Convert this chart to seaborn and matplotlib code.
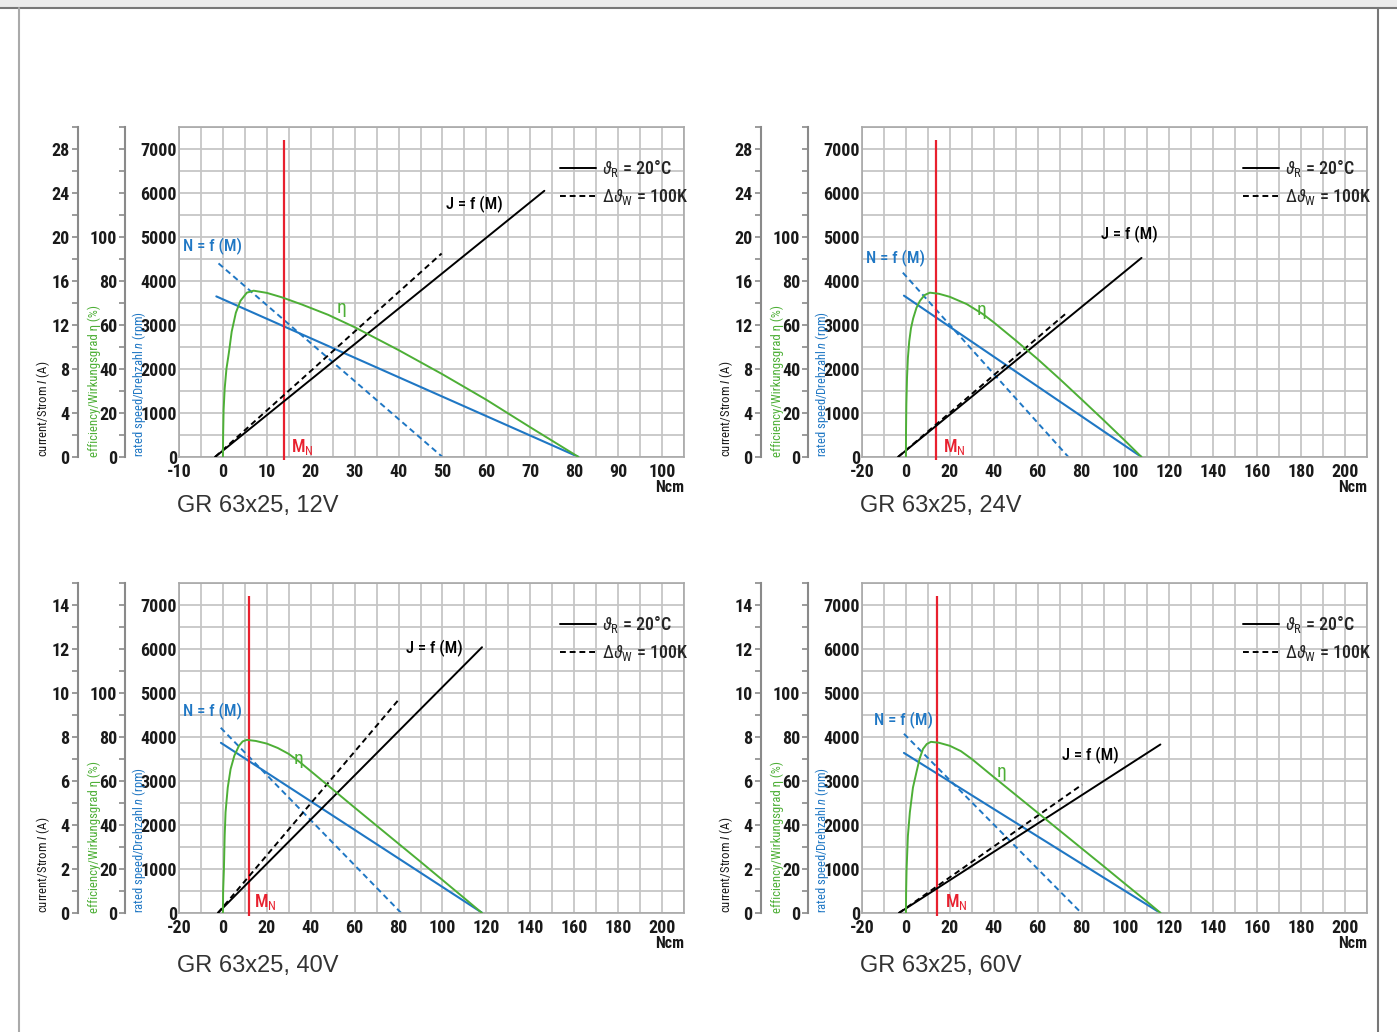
import numpy as np
import matplotlib
matplotlib.use('Agg')
import matplotlib.pyplot as plt
from matplotlib import font_manager as fm
from matplotlib.lines import Line2D
from matplotlib.patches import Rectangle
from matplotlib.ticker import MultipleLocator
import seaborn as sns

# ---- data (M in Ncm) ----
TITLES = ['GR 63x25, 12V', 'GR 63x25, 24V', 'GR 63x25, 40V', 'GR 63x25, 60V']

# 12 V
V12_MN = 13.9
V12_SPEED_M = [-1.5, 81.0]
V12_SPEED_N = [3650, 0]
V12_SPEED_HOT_M = [-1.0, 50.0]
V12_SPEED_HOT_N = [4400, 0]
V12_CURR_M = [-1.8, 73.2]
V12_CURR_I = [0.0, 24.2]
V12_CURR_HOT_M = [-1.8, 49.8]
V12_CURR_HOT_I = [0.0, 18.5]
V12_EFF_M = [0, 0.05, 0.16, 0.4, 0.8, 1.36, 2.0, 2.95, 4.0, 5.45, 7.0, 10.0, 13.4, 18.0, 24.0, 30.0, 40.0, 50.0, 60.0, 70.0, 81.0]
V12_EFF = [0, 10, 21.4, 31, 40, 47.4, 57, 65.6, 71, 74.7, 75.6, 74.6, 72.6, 69.3, 64.6, 59.0, 48.6, 37.6, 26.0, 13.5, 0]

# 24 V
V24_MN = 13.6
V24_SPEED_M = [-0.9, 107.3]
V24_SPEED_N = [3667, 0]
V24_SPEED_HOT_M = [-1.4, 74.0]
V24_SPEED_HOT_N = [4190, 0]
V24_CURR_M = [-3.6, 107.3]
V24_CURR_I = [0.0, 18.1]
V24_CURR_HOT_M = [-3.6, 73.2]
V24_CURR_HOT_I = [0.0, 13.1]
V24_EFF_M = [0, 0.05, 0.2, 0.5, 0.9, 1.5, 2.3, 3.3, 4.8, 6.4, 8.5, 10.9, 15.0, 20.0, 27.7, 35.0, 40.0, 50.0, 60.0, 70.0, 80.0, 90.0, 100.0, 107.3]
V24_EFF = [0, 12, 24, 36, 45, 52.5, 58.5, 63, 67.8, 71, 73.6, 74.7, 74.2, 72.8, 69.5, 65.0, 61.2, 53.0, 44.5, 35.5, 26.2, 16.8, 7.2, 0]

# 40 V
V40_MN = 12.1
V40_SPEED_M = [-0.9, 118.2]
V40_SPEED_N = [3867, 0]
V40_SPEED_HOT_M = [-1.0, 81.2]
V40_SPEED_HOT_N = [4210, 0]
V40_CURR_M = [-2.3, 118.0]
V40_CURR_I = [0.0, 12.08]
V40_CURR_HOT_M = [-2.3, 80.5]
V40_CURR_HOT_I = [0.0, 9.75]
V40_EFF_M = [0, 0.1, 0.45, 0.8, 1.2, 2.2, 3.5, 5.2, 7.3, 9.0, 10.9, 15.0, 20.0, 25.0, 30.0, 35.0, 40.0, 50.0, 60.0, 70.0, 80.0, 90.0, 100.0, 110.0, 118.0]
V40_EFF = [0, 10, 19.7, 35, 45.8, 57, 65.4, 71.5, 76, 78, 78.7, 78.2, 77.0, 75.0, 72.3, 68.6, 64.5, 56.2, 47.9, 39.7, 31.5, 23.3, 15.0, 6.7, 0]

# 60 V
V60_MN = 14.1
V60_SPEED_M = [-0.9, 115.9]
V60_SPEED_N = [3638, 0]
V60_SPEED_HOT_M = [-0.9, 79.9]
V60_SPEED_HOT_N = [4073, 0]
V60_CURR_M = [-3.2, 115.9]
V60_CURR_I = [0.0, 7.66]
V60_CURR_HOT_M = [-3.2, 80.3]
V60_CURR_HOT_I = [0.0, 5.84]
V60_EFF_M = [0, 0.1, 0.3, 0.9, 1.8, 3.2, 4.8, 6.2, 7.8, 9.5, 11.4, 15.0, 20.0, 25.0, 30.0, 35.0, 40.0, 50.0, 60.0, 70.0, 80.0, 90.0, 100.0, 110.0, 116.0]
V60_EFF = [0, 10, 19.7, 35, 45.8, 57, 64, 70, 74.6, 76.8, 77.8, 77.4, 76.0, 73.6, 70.0, 65.9, 61.8, 53.7, 45.6, 37.5, 29.4, 21.3, 13.1, 5.0, 0]

# ---- style ----
sns.set_theme(style='white')

# pick a condensed face if one is installed
ttf = fm.fontManager.ttflist
fams = {f.name for f in ttf}
NARROW = 'DejaVu Sans'
STRETCH = 'normal'
for cand in ['Liberation Sans Narrow', 'Roboto Condensed', 'Open Sans Condensed',
             'Noto Sans Condensed', 'DejaVu Sans Condensed', 'Arial Narrow']:
    if cand in fams:
        NARROW = cand
        break
else:
    for fam in ['Roboto', 'Noto Sans', 'Open Sans', 'DejaVu Sans']:
        if any(f.name == fam and 'condensed' in str(f.stretch) for f in ttf):
            NARROW = fam
            STRETCH = 'condensed'
            break
FS = 1.0 if (NARROW != 'DejaVu Sans' or STRETCH == 'condensed') else 0.82

plt.rcParams['font.family'] = [NARROW, 'DejaVu Sans']
plt.rcParams['font.stretch'] = STRETCH
plt.rcParams['axes.unicode_minus'] = False
plt.rcParams['mathtext.fontset'] = 'custom'
plt.rcParams['mathtext.rm'] = NARROW
plt.rcParams['mathtext.it'] = NARROW + ':italic'

BLUE = '#1f77c4'
GREEN = '#4daf36'
RED = '#e8202e'
GRID = '#c6c6c6'
INK = '#1a1a1a'
TICK_FS = 13 * FS

fig = plt.figure(figsize=(13.97, 10.32), dpi=100)

# page frame
fig.patches.append(Rectangle((0, 1 - 7 / 1032), 1, 7 / 1032, transform=fig.transFigure,
                             facecolor='#ebebeb', edgecolor='none'))
fig.add_artist(Line2D([0, 1], [1 - 7.5 / 1032] * 2, transform=fig.transFigure, color='#777777', lw=1.5))
fig.add_artist(Line2D([19 / 1397] * 2, [0, 1 - 7.5 / 1032], transform=fig.transFigure, color='#aaaaaa', lw=1.5))
fig.add_artist(Line2D([1378 / 1397] * 2, [0, 1 - 7.5 / 1032], transform=fig.transFigure, color='#777777', lw=1.5))


def bold_ticks(axis):
    for lab in axis.get_ticklabels():
        lab.set_fontweight('bold')


def draw_panel(rect, title, xlim, xstep, imax, istep, mn, speed, speed_hot, curr, curr_hot, eff,
               n_lab, j_lab, eta_lab, mn_lab, title_y):
    ax = fig.add_axes(rect)
    ax.set_xlim(*xlim)
    ax.set_ylim(0, 7500)
    ax.set_xticks(np.arange(xlim[0], 201 if xlim[1] > 110 else 101, xstep))
    ax.xaxis.set_minor_locator(MultipleLocator(xstep / 2))
    ax.set_yticks(np.arange(0, 7001, 1000))
    ax.yaxis.set_minor_locator(MultipleLocator(500))
    ax.grid(which='both', color=GRID, lw=1.3)
    ax.tick_params(which='both', length=0, labelsize=TICK_FS, colors=INK)
    ax.tick_params(axis='x', pad=4)
    ax.tick_params(axis='y', pad=1.5)
    for s in ax.spines.values():
        s.set_color('#a8a8a8')
        s.set_linewidth(1.2)

    # current and efficiency scales as extra left axes
    ax_i = ax.twinx()
    ax_e = ax.twinx()
    for tw, off, top in [(ax_i, -0.2, imax), (ax_e, -0.106, 150)]:
        tw.set_ylim(0, top)
        for s in ['right', 'top', 'bottom']:
            tw.spines[s].set_visible(False)
        tw.spines['left'].set_visible(True)
        tw.spines['left'].set_position(('axes', off))
        tw.spines['left'].set_color('#8a8a8a')
        tw.spines['left'].set_linewidth(1.5)
        tw.yaxis.set_ticks_position('left')
        tw.tick_params(which='both', direction='out', color='#8a8a8a', width=1.2, length=4,
                       labelsize=TICK_FS, labelcolor=INK, pad=2)
    ax_i.set_yticks(np.arange(0, imax - istep / 2 + 0.01, istep))
    ax_i.yaxis.set_minor_locator(MultipleLocator(istep / 2))
    ax_e.set_yticks(np.arange(0, 101, 20))
    ax_e.yaxis.set_minor_locator(MultipleLocator(10))
    for a in (ax.xaxis, ax.yaxis, ax_i.yaxis, ax_e.yaxis):
        bold_ticks(a)

    # curves
    sns.lineplot(x=speed[0], y=speed[1], ax=ax, color=BLUE, lw=1.5, estimator=None, sort=False)
    sns.lineplot(x=speed_hot[0], y=speed_hot[1], ax=ax, color=BLUE, lw=1.4,
                 linestyle=(0, (3, 2)), estimator=None, sort=False)
    sns.lineplot(x=curr[0], y=curr[1], ax=ax_i, color='black', lw=1.4, estimator=None, sort=False)
    sns.lineplot(x=curr_hot[0], y=curr_hot[1], ax=ax_i, color='black', lw=1.4,
                 linestyle=(0, (3, 2)), estimator=None, sort=False)
    sns.lineplot(x=eff[0], y=eff[1], ax=ax_e, color=GREEN, lw=1.4, estimator=None, sort=False)
    ax.vlines(mn, -70, 7200, color=RED, lw=1.6, clip_on=False, zorder=5)
    for a in (ax, ax_i, ax_e):
        a.set_xlabel('')
        a.set_ylabel('')

    # annotations
    ax.text(n_lab[0], n_lab[1], 'N = f (M)', color=BLUE, fontsize=12 * FS, fontweight='medium',
            ha='left', va='center')
    ax.text(j_lab[0], j_lab[1], 'J = f (M)', color='black', fontsize=12 * FS, fontweight='medium',
            ha='left', va='center')
    ax.text(eta_lab[0], eta_lab[1], 'η', color=GREEN, fontsize=14 * FS, ha='center', va='center')
    ax.text(mn_lab[0], mn_lab[1], r'M$_\mathrm{N}$', color=RED, fontsize=13 * FS, fontweight='medium',
            ha='left', va='center')

    ax.text(1.0, -0.092, 'Ncm', transform=ax.transAxes, ha='right', va='center',
            fontsize=11.5 * FS, fontweight='bold', color=INK)
    ax.text(-0.27, 0, 'current/Strom $I$ (A)', transform=ax.transAxes, rotation=90,
            ha='center', va='bottom', fontsize=9.2 * FS, color=INK)
    ax.text(-0.168, 0, 'efficiency/Wirkungsgrad η (%)', transform=ax.transAxes, rotation=90,
            ha='center', va='bottom', fontsize=9.2 * FS, color=GREEN)
    ax.text(-0.08, 0, 'rated speed/Drehzahl $n$ (rpm)', transform=ax.transAxes, rotation=90,
            ha='center', va='bottom', fontsize=9 * FS, color=BLUE)
    ax.text(-0.004, title_y, title, transform=ax.transAxes, ha='left', va='baseline',
            fontsize=17, color='#333333', family=['Liberation Sans', 'DejaVu Sans'], stretch='normal')

    handles = [Line2D([], [], color='black', lw=1.4),
               Line2D([], [], color='black', lw=1.4, linestyle=(0, (3, 2)))]
    ax.legend(handles, [r'$\vartheta_\mathrm{R}$ = 20°C', r'$\Delta\vartheta_\mathrm{W}$ = 100K'],
              loc='upper left', bbox_to_anchor=(0.755, 0.905), frameon=False,
              prop={'size': 13 * FS, 'weight': 'medium'},
              handlelength=2.0, handletextpad=0.3, labelspacing=0.45, borderpad=0, borderaxespad=0)
    return ax


W = 505 / 1397
H = 330 / 1032
TOP_Y = 1 - 457 / 1032
BOT_Y = 1 - 913 / 1032
LEFT_X = 179 / 1397
RIGHT_X = 862 / 1397

draw_panel([LEFT_X, TOP_Y, W, H], TITLES[0], (-10, 105), 10, 30, 4, V12_MN,
           (V12_SPEED_M, V12_SPEED_N), (V12_SPEED_HOT_M, V12_SPEED_HOT_N),
           (V12_CURR_M, V12_CURR_I), (V12_CURR_HOT_M, V12_CURR_HOT_I), (V12_EFF_M, V12_EFF),
           (-9.1, 4784), (50.9, 5740), (27, 3394), (15.6, 220), -0.167)
draw_panel([RIGHT_X, TOP_Y, W, H], TITLES[1], (-20, 210), 20, 30, 4, V24_MN,
           (V24_SPEED_M, V24_SPEED_N), (V24_SPEED_HOT_M, V24_SPEED_HOT_N),
           (V24_CURR_M, V24_CURR_I), (V24_CURR_HOT_M, V24_CURR_HOT_I), (V24_EFF_M, V24_EFF),
           (-18.2, 4510), (89, 5058), (34.4, 3349), (16.7, 220), -0.167)
draw_panel([LEFT_X, BOT_Y, W, H], TITLES[2], (-20, 210), 20, 15, 2, V40_MN,
           (V40_SPEED_M, V40_SPEED_N), (V40_SPEED_HOT_M, V40_SPEED_HOT_N),
           (V40_CURR_M, V40_CURR_I), (V40_CURR_HOT_M, V40_CURR_HOT_I), (V40_EFF_M, V40_EFF),
           (-18.2, 4577), (83.6, 6018), (34.5, 3501), (14.1, 250), -0.179)
draw_panel([RIGHT_X, BOT_Y, W, H], TITLES[3], (-20, 210), 20, 15, 2, V60_MN,
           (V60_SPEED_M, V60_SPEED_N), (V60_SPEED_HOT_M, V60_SPEED_HOT_N),
           (V60_CURR_M, V60_CURR_I), (V60_CURR_HOT_M, V60_CURR_HOT_I), (V60_EFF_M, V60_EFF),
           (-14.5, 4371), (70.9, 3570), (43.5, 3204), (17.7, 250), -0.179)

fig.savefig('out.png', dpi=100)
